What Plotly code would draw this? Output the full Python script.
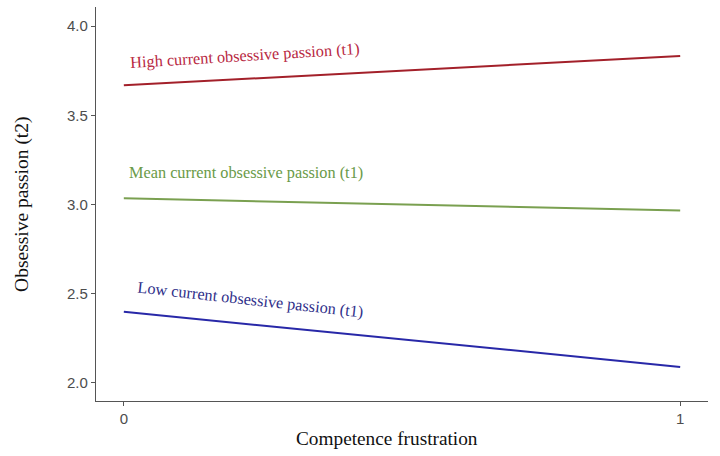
import plotly.graph_objects as go

# Simple slopes: obsessive passion (t2) by competence frustration,
# at three levels of current obsessive passion (t1)
frustration = [0, 1]
high_op = [3.668, 3.833]
mean_op = [3.035, 2.966]
low_op = [2.399, 2.090]

series_names = [
    "High current obsessive passion (t1)",
    "Mean current obsessive passion (t1)",
    "Low current obsessive passion (t1)",
]
line_colors = ["#a3202a", "#7aa050", "#2828a8"]
label_colors = ["#b8283f", "#6a9a48", "#30308a"]

x_ticks = [0, 1]
y_ticks = [2.0, 2.5, 3.0, 3.5, 4.0]

fig = go.Figure()
for name, vals, col in zip(series_names, [high_op, mean_op, low_op], line_colors):
    fig.add_trace(go.Scatter(x=frustration, y=vals, mode="lines", name=name,
                             line=dict(color=col, width=2), showlegend=False))

# Line labels (position in data units, slight rotation following each line)
label_pos = [(0.217, 3.837, -3.5), (0.219, 3.180, 0), (0.228, 2.466, 6.3)]
serif = "Liberation Serif, Times New Roman, serif"
for name, (lx, ly, ang), col in zip(series_names, label_pos, label_colors):
    fig.add_annotation(x=lx, y=ly, xref="x", yref="y", text=name, showarrow=False,
                       textangle=ang, font=dict(family=serif, size=16.3, color=col),
                       xanchor="center", yanchor="middle")

# Axis titles
fig.add_annotation(x=0.475, y=-0.0964, xref="paper", yref="paper",
                   text="Competence frustration", showarrow=False,
                   font=dict(family=serif, size=19.3, color="#111111"),
                   xanchor="center", yanchor="middle")
fig.add_annotation(x=-0.121, y=0.5, xref="paper", yref="paper",
                   text="Obsessive passion (t2)", showarrow=False, textangle=-90,
                   font=dict(family=serif, size=19.5, color="#111111"),
                   xanchor="center", yanchor="middle")

axis_common = dict(showgrid=False, zeroline=False, showline=True, linecolor="#555555",
                   linewidth=1.3, ticks="outside", ticklen=4, tickcolor="#555555",
                   tickfont=dict(family="Liberation Sans, Arial, sans-serif",
                                 size=15, color="#4d4d4d"))
fig.update_xaxes(range=[-0.05, 1.05], tickvals=x_ticks, ticktext=[str(v) for v in x_ticks],
                 **axis_common)
fig.update_yaxes(range=[1.899, 4.107], tickvals=y_ticks,
                 ticktext=[f"{v:.1f}" for v in y_ticks], **axis_common)

fig.update_layout(width=720, height=456, margin=dict(l=96, r=12, t=7, b=55),
                  plot_bgcolor="white", paper_bgcolor="white")

fig.write_html("out.html")
